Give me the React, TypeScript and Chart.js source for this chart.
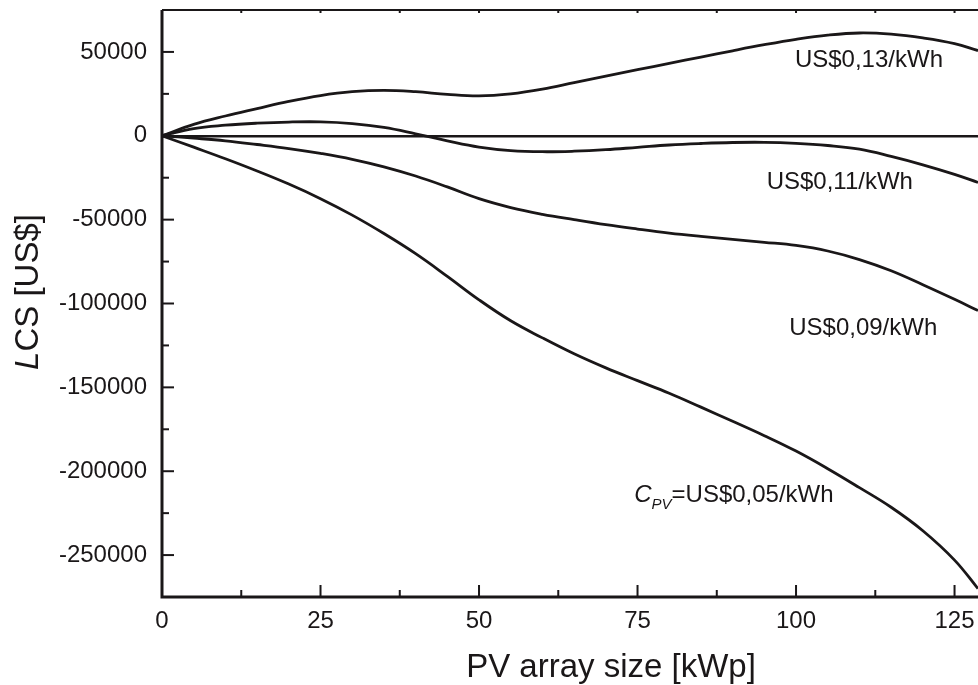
import React, { useEffect, useRef } from 'react';
import { Chart, registerables } from 'chart.js';

Chart.register(...registerables);

// ---- Data ----
const pvSize = [0, 5, 10, 15, 20, 25, 30, 35, 40, 45, 50, 55, 60, 65, 70, 75, 80, 85, 90, 95, 100, 105, 110, 115, 120, 125, 128.7];

const lcs013 = [0, 6800, 11800, 16200, 20500, 24000, 26300, 27100, 26300, 24700, 23800, 25000, 27800, 31700, 35600, 39400, 43200, 46900, 50700, 54300, 57500, 60000, 61300, 60600, 58400, 55000, 50800];
const lcs011 = [0, 4300, 6300, 7500, 8200, 8300, 7300, 5000, 1200, -3000, -6700, -8800, -9500, -9200, -8300, -6900, -5500, -4600, -4000, -3900, -4500, -5800, -8000, -12300, -17300, -23000, -27800];
const lcs009 = [0, -1400, -3000, -5200, -7600, -10500, -14000, -18500, -24000, -30500, -37500, -42800, -46800, -50000, -53000, -55600, -58000, -60000, -61800, -63500, -65400, -68700, -73800, -80500, -88800, -97500, -104200];
const lcs005 = [0, -6800, -13700, -21000, -28800, -37500, -47300, -58300, -70300, -83800, -97800, -110300, -120500, -130000, -138400, -146000, -153500, -161800, -170200, -178800, -188000, -198500, -209800, -221500, -235500, -253000, -270000];

const xTickValues = [0, 25, 50, 75, 100, 125];
const xMinorTicks = [12.5, 37.5, 62.5, 87.5, 112.5];
const yTickValues = [-250000, -200000, -150000, -100000, -50000, 0, 50000];
const yMinorTicks = [-225000, -175000, -125000, -75000, -25000, 25000];

const X_MIN = 0;
const X_MAX = 128.7;
const Y_MIN = -275000;
const Y_MAX = 75000;

const xTitle = 'PV array size [kWp]';
const yTitleItalic = 'L';
const yTitleRest = 'CS [US$]';

const curveLabels = [
  { text: 'US$0,13/kWh', x: 111.5, y: 45200 },
  { text: 'US$0,11/kWh', x: 106.9, y: -27600 },
  { text: 'US$0,09/kWh', x: 110.6, y: -114600 },
];
const cpvLabel = { main: 'C', sub: 'PV', rest: '=US$0,05/kWh', x: 90.2, y: -213000 };

const FONT = '"Liberation Sans", Arial, Helvetica, sans-serif';
const INK = '#1a1718';

const decoPlugin = {
  id: 'deco',
  afterDatasetsDraw(chart: any) {
    const { ctx, chartArea: a, scales } = chart;
    const xs = scales.x;
    const ys = scales.y;
    ctx.save();
    ctx.strokeStyle = INK;
    ctx.lineCap = 'butt';

    // frame: left + bottom (thick), top (thinner)
    ctx.lineWidth = 3;
    ctx.beginPath();
    ctx.moveTo(a.left, a.top);
    ctx.lineTo(a.left, a.bottom);
    ctx.lineTo(a.right + 2, a.bottom);
    ctx.stroke();
    ctx.lineWidth = 2;
    ctx.beginPath();
    ctx.moveTo(a.left, a.top);
    ctx.lineTo(a.right + 2, a.top);
    ctx.stroke();

    // inward ticks
    ctx.lineWidth = 2;
    const xt = (v: number, len: number, topLen: number) => {
      const px = xs.getPixelForValue(v);
      ctx.beginPath();
      ctx.moveTo(px, a.bottom);
      ctx.lineTo(px, a.bottom - len);
      ctx.moveTo(px, a.top);
      ctx.lineTo(px, a.top + topLen);
      ctx.stroke();
    };
    xTickValues.forEach((v) => xt(v, 12, 3));
    xMinorTicks.forEach((v) => xt(v, 7, 3));
    const yt = (v: number, len: number) => {
      const py = ys.getPixelForValue(v);
      ctx.beginPath();
      ctx.moveTo(a.left, py);
      ctx.lineTo(a.left + len, py);
      ctx.stroke();
    };
    yTickValues.forEach((v) => yt(v, 12));
    yMinorTicks.forEach((v) => yt(v, 7));

    // curve labels
    ctx.fillStyle = INK;
    ctx.font = `24px ${FONT}`;
    ctx.textAlign = 'center';
    ctx.textBaseline = 'middle';
    curveLabels.forEach((l) => {
      ctx.fillText(l.text, xs.getPixelForValue(l.x), ys.getPixelForValue(l.y));
    });

    // C_PV label
    {
      const cx = xs.getPixelForValue(cpvLabel.x);
      const cy = ys.getPixelForValue(cpvLabel.y);
      ctx.textAlign = 'left';
      ctx.textBaseline = 'alphabetic';
      ctx.font = `italic 24px ${FONT}`;
      const wC = ctx.measureText(cpvLabel.main).width;
      ctx.font = `italic 15px ${FONT}`;
      const wS = ctx.measureText(cpvLabel.sub).width;
      ctx.font = `24px ${FONT}`;
      const wR = ctx.measureText(cpvLabel.rest).width;
      const start = cx - (wC + wS + wR) / 2;
      const base = cy + 8.5;
      ctx.font = `italic 24px ${FONT}`;
      ctx.fillText(cpvLabel.main, start, base);
      ctx.font = `italic 15px ${FONT}`;
      ctx.fillText(cpvLabel.sub, start + wC, base + 7);
      ctx.font = `24px ${FONT}`;
      ctx.fillText(cpvLabel.rest, start + wC + wS, base);
    }

    // x title
    ctx.font = `33px ${FONT}`;
    ctx.textAlign = 'center';
    ctx.textBaseline = 'alphabetic';
    ctx.fillText(xTitle, 611, 677);

    // y title (rotated, italic L)
    ctx.translate(38, 292);
    ctx.rotate(-Math.PI / 2);
    ctx.textAlign = 'left';
    ctx.font = `italic 33px ${FONT}`;
    const wL = ctx.measureText(yTitleItalic).width;
    ctx.font = `33px ${FONT}`;
    const wRest = ctx.measureText(yTitleRest).width;
    const s = -(wL + wRest) / 2;
    ctx.font = `italic 33px ${FONT}`;
    ctx.fillText(yTitleItalic, s, 0);
    ctx.font = `33px ${FONT}`;
    ctx.fillText(yTitleRest, s + wL, 0);

    ctx.restore();
  },
};

const seriesList = [lcs013, lcs011, lcs009, lcs005];

export default function App() {
  const ref = useRef<HTMLCanvasElement | null>(null);

  useEffect(() => {
    if (!ref.current) return;
    const chart = new Chart(ref.current, {
      type: 'line',
      data: {
        datasets: seriesList.map((s, k) => ({
          label: `s${k}`,
          data: pvSize.map((x, i) => ({ x, y: s[i] })),
          borderColor: INK,
          borderWidth: 2.8,
          pointRadius: 0,
          fill: false,
          tension: 0.4,
          cubicInterpolationMode: 'default' as const,
        })),
      },
      options: {
        animation: false,
        responsive: false,
        maintainAspectRatio: false,
        events: [],
        layout: { padding: { top: 10, right: 0, left: 0, bottom: 0 } },
        plugins: { legend: { display: false }, tooltip: { enabled: false }, title: { display: false } },
        scales: {
          x: {
            type: 'linear',
            min: X_MIN,
            max: X_MAX,
            afterBuildTicks: (scale: any) => {
              scale.ticks = xTickValues.map((value) => ({ value }));
            },
            afterFit: (scale: any) => {
              scale.height = 88;
              scale.paddingLeft = 0;
              scale.paddingRight = 0;
            },
            grid: { display: false, drawTicks: false },
            border: { display: false },
            ticks: {
              padding: 10,
              color: INK,
              font: { family: FONT, size: 24 },
              maxRotation: 0,
              autoSkip: false,
              callback: (v: any) => String(v),
            },
          },
          y: {
            type: 'linear',
            min: Y_MIN,
            max: Y_MAX,
            afterBuildTicks: (scale: any) => {
              scale.ticks = yTickValues.map((value) => ({ value }));
            },
            afterFit: (scale: any) => {
              scale.width = 162;
              scale.paddingTop = 0;
              scale.paddingBottom = 0;
            },
            grid: {
              drawTicks: false,
              color: (c: any) => (c.tick && c.tick.value === 0 ? INK : 'rgba(0,0,0,0)'),
              lineWidth: 2.4,
            },
            border: { display: false },
            ticks: {
              padding: 15,
              color: INK,
              font: { family: FONT, size: 24 },
              autoSkip: false,
              callback: (v: any) => String(v),
            },
          },
        },
      },
      plugins: [decoPlugin],
    } as any);
    return () => chart.destroy();
  }, []);

  return (
    <div style={{ position: 'absolute', left: 0, top: 0, width: 978, height: 685, background: '#fff' }}>
      <canvas ref={ref} width={978} height={685} style={{ width: 978, height: 685, display: 'block' }} />
    </div>
  );
}
